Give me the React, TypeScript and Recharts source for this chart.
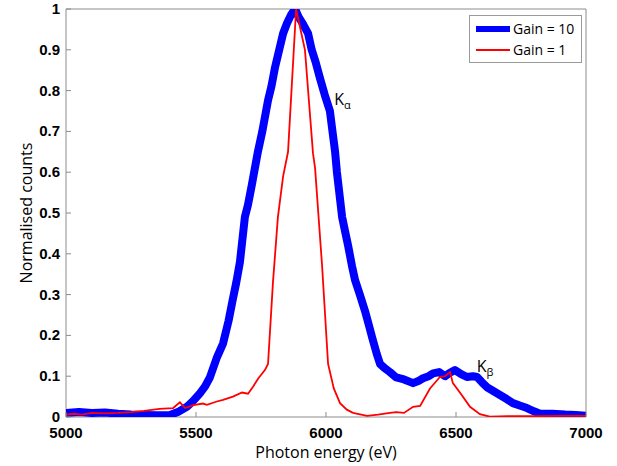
import React from "react";
import {
  LineChart,
  Line,
  XAxis,
  YAxis,
  ReferenceDot,
  ReferenceLine,
} from "recharts";

// Gain = 10 spectrum (thick blue)
const gain10Energy = [
  5000, 5050, 5100, 5150, 5200, 5250, 5300, 5350, 5400, 5430, 5465, 5490,
  5515, 5535, 5554, 5581, 5604, 5625, 5642, 5655, 5669, 5688, 5700, 5715,
  5738, 5755, 5777, 5790, 5804, 5820, 5835, 5850, 5865, 5881, 5895, 5910,
  5931, 5945, 5960, 5977, 5995, 6015, 6025, 6035, 6042, 6062, 6075, 6085,
  6100, 6112, 6130, 6150, 6165, 6177, 6195, 6208, 6225, 6246, 6270, 6300,
  6335, 6355, 6373, 6395, 6412, 6435, 6458, 6475, 6496, 6520, 6542, 6565,
  6581, 6600, 6619, 6645, 6669, 6695, 6719, 6745, 6773, 6800, 6823, 6870,
  6920, 6960, 7000,
];
const gain10Counts = [
  0.01, 0.012, 0.01, 0.011, 0.008, 0.006, 0.005, 0.004, 0.005, 0.012, 0.025,
  0.04, 0.058, 0.075, 0.098, 0.147, 0.18, 0.235, 0.29, 0.33, 0.38, 0.49, 0.52,
  0.57, 0.65, 0.7, 0.776, 0.81, 0.857, 0.9, 0.94, 0.965, 0.985, 1.0, 0.98,
  0.965, 0.94, 0.9, 0.87, 0.83, 0.79, 0.75, 0.7, 0.65, 0.6, 0.49, 0.45, 0.42,
  0.37, 0.335, 0.3, 0.26, 0.225, 0.196, 0.155, 0.13, 0.12, 0.11, 0.097, 0.092,
  0.083, 0.088, 0.095, 0.1, 0.107, 0.11, 0.1, 0.108, 0.115, 0.105, 0.098, 0.1,
  0.098, 0.085, 0.073, 0.063, 0.054, 0.044, 0.034, 0.028, 0.022, 0.014, 0.008,
  0.008, 0.006, 0.005, 0.003,
];

// Gain = 1 spectrum (thin red)
const gain1Energy = [
  5000, 5030, 5060, 5100, 5150, 5200, 5250, 5300, 5360, 5412, 5438, 5458,
  5490, 5527, 5542, 5580, 5604, 5642, 5677, 5700, 5720, 5740, 5765, 5777,
  5796, 5815, 5835, 5854, 5885, 5919, 5950, 5958, 5985, 6008, 6030, 6054,
  6080, 6104, 6158, 6200, 6246, 6270, 6300, 6335, 6362, 6400, 6438, 6458,
  6477, 6488, 6515, 6554, 6592, 6630, 6700, 6800, 6900, 7000,
];
const gain1Counts = [
  0.006, 0.008, 0.006, 0.01, 0.009, 0.01, 0.012, 0.015, 0.02, 0.022, 0.036,
  0.022, 0.029, 0.033, 0.03, 0.038, 0.042, 0.05, 0.06, 0.057, 0.075, 0.095,
  0.115, 0.13, 0.33, 0.49, 0.59, 0.65, 1.0, 0.9, 0.646, 0.61, 0.37, 0.13,
  0.07, 0.034, 0.018, 0.01, 0.003, 0.006, 0.01, 0.012, 0.01, 0.025, 0.027,
  0.07, 0.098, 0.1, 0.11, 0.083, 0.06, 0.025, 0.007, 0.001, 0.002, 0.002,
  0.003, 0.003,
];

const energyTicks = [5000, 5500, 6000, 6500, 7000];
const countTicks = [0, 0.1, 0.2, 0.3, 0.4, 0.5, 0.6, 0.7, 0.8, 0.9, 1];

const gain10Data = gain10Energy.map((e, i) => ({ energy: e, counts: gain10Counts[i] }));
const gain1Data = gain1Energy.map((e, i) => ({ energy: e, counts: gain1Counts[i] }));

const tickFontFamily = "'Liberation Sans', Arial, sans-serif";
const labelFont = "'Open Sans', 'Noto Sans', sans-serif";
const axisColor = "#8c8c8c";

// ticks point inwards, like the matlab figure
const BottomTick = (props: any) => {
  const { x, y, payload } = props;
  return (
    <g>
      <line x1={x} y1={y} x2={x} y2={y - 5} stroke={axisColor} />
      <text x={x} y={y + 21} textAnchor="middle" fontSize={15} fontWeight="bold" fontFamily={tickFontFamily} fill="#000">
        {payload.value}
      </text>
    </g>
  );
};

const TopTick = (props: any) => {
  const { x, y } = props;
  return <line x1={x} y1={y} x2={x} y2={y + 5} stroke={axisColor} />;
};

const LeftTick = (props: any) => {
  const { x, y, payload } = props;
  return (
    <g>
      <line x1={x} y1={y} x2={x + 5} y2={y} stroke={axisColor} />
      <text x={x - 6} y={y + 5} textAnchor="end" fontSize={15} fontWeight="bold" fontFamily={tickFontFamily} fill="#000">
        {String(Math.round(payload.value * 10) / 10)}
      </text>
    </g>
  );
};

const RightTick = (props: any) => {
  const { x, y } = props;
  return <line x1={x} y1={y} x2={x - 5} y2={y} stroke={axisColor} />;
};

const KLabel = (props: any) => {
  const { viewBox, sub } = props;
  if (!viewBox) return null;
  return (
    <text x={viewBox.x} y={viewBox.y} fontFamily={labelFont} fontSize={16} fill="#000">
      K
      <tspan fontSize={11} dy={4}>
        {sub}
      </tspan>
    </text>
  );
};

const LegendBox = () => (
  <div
    style={{
      position: "absolute",
      left: 469,
      top: 15,
      border: "1px solid #9a9a9a",
      background: "#fff",
      padding: "2px 7px 2px 6px",
      fontFamily: labelFont,
      fontSize: 14,
      lineHeight: "21px",
      color: "#000",
      whiteSpace: "nowrap",
    }}
  >
    <div style={{ display: "flex", alignItems: "center" }}>
      <span style={{ display: "inline-block", width: 34, height: 6, background: "#0000ff", marginRight: 3 }} />
      Gain = 10
    </div>
    <div style={{ display: "flex", alignItems: "center" }}>
      <span style={{ display: "inline-block", width: 34, height: 2, background: "#ff0000", marginRight: 3 }} />
      Gain = 1
    </div>
  </div>
);

export default function App() {
  return (
    <div style={{ position: "absolute", left: 0, top: 0, width: 617, height: 466 }}>
      <LineChart width={617} height={466} margin={{ top: 9, right: 31, bottom: 0, left: 0 }}>
        <ReferenceLine x={5000} stroke={axisColor} />
        <ReferenceLine x={7000} stroke={axisColor} />
        <ReferenceLine y={0} stroke={axisColor} />
        <ReferenceLine y={1} stroke={axisColor} />
        <XAxis
          dataKey="energy"
          type="number"
          domain={[5000, 7000]}
          ticks={energyTicks}
          allowDataOverflow
          height={49}
          axisLine={false}
          tickLine={false}
          tickSize={0}
          tickMargin={0}
          tick={<BottomTick />}
          label={{
            value: "Photon energy (eV)",
            position: "insideBottom",
            offset: 8,
            style: { fontFamily: labelFont, fontSize: 16, fill: "#000" },
          }}
        />
        <XAxis
          xAxisId="top"
          orientation="top"
          dataKey="energy"
          type="number"
          domain={[5000, 7000]}
          ticks={energyTicks}
          height={0}
          axisLine={false}
          tickLine={false}
          tickSize={0}
          tickMargin={0}
          tick={<TopTick />}
        />
        <YAxis
          type="number"
          domain={[0, 1]}
          ticks={countTicks}
          allowDataOverflow
          width={66}
          axisLine={false}
          tickLine={false}
          tickSize={0}
          tickMargin={0}
          tick={<LeftTick />}
          label={{
            value: "Normalised counts",
            angle: -90,
            position: "insideLeft",
            offset: 26,
            style: { fontFamily: labelFont, fontSize: 16, fill: "#000", textAnchor: "middle" },
          }}
        />
        <YAxis
          yAxisId="right"
          orientation="right"
          type="number"
          domain={[0, 1]}
          ticks={countTicks}
          width={0}
          axisLine={false}
          tickLine={false}
          tickSize={0}
          tickMargin={0}
          tick={<RightTick />}
        />
        <Line
          data={gain10Data}
          dataKey="counts"
          name="Gain = 10"
          type="linear"
          stroke="#0000ff"
          strokeWidth={8}
          strokeLinejoin="round"
          dot={false}
          isAnimationActive={false}
        />
        <Line
          data={gain1Data}
          dataKey="counts"
          name="Gain = 1"
          type="linear"
          stroke="#ff0000"
          strokeWidth={1.8}
          dot={false}
          isAnimationActive={false}
        />
        <ReferenceDot x={6032} y={0.765} r={0} stroke="none" label={<KLabel sub="α" />} />
        <ReferenceDot x={6580} y={0.11} r={0} stroke="none" label={<KLabel sub="β" />} />
      </LineChart>
      <LegendBox />
    </div>
  );
}
